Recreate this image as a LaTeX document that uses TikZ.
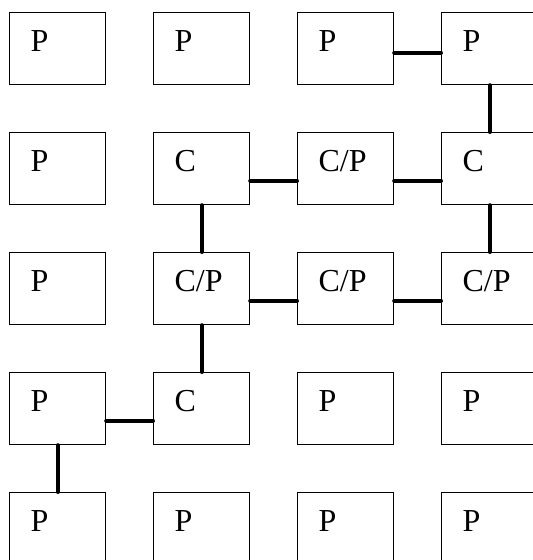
\documentclass[tikz,border=0pt]{standalone}
\usepackage{fontspec}
\setmainfont{Liberation Serif}
\begin{document}
\begin{tikzpicture}[x=1pt,y=-1pt,
  cell/.style={draw=black, line width=1.2pt, rectangle, anchor=north west,
    inner xsep=21pt, inner ysep=0pt, text width=54pt, align=left,
    text height=38.5pt, text depth=33.5pt,
    font=\fontsize{32}{38}\selectfont},
  link/.style={line width=4pt, line cap=round}]
\useasboundingbox (0,0) rectangle (533,560);
\clip (0,0) rectangle (533,560);
% row 0
\node[cell] (a00) at (9,12) {P};
\node[cell] (a01) at (153,12) {P};
\node[cell] (a02) at (297,12) {P};
\node[cell] (a03) at (441,12) {P};
% row 1
\node[cell] (a10) at (9,132) {P};
\node[cell] (a11) at (153,132) {C};
\node[cell] (a12) at (297,132) {C/P};
\node[cell] (a13) at (441,132) {C};
% row 2
\node[cell] (a20) at (9,252) {P};
\node[cell] (a21) at (153,252) {C/P};
\node[cell] (a22) at (297,252) {C/P};
\node[cell] (a23) at (441,252) {C/P};
% row 3
\node[cell] (a30) at (9,372) {P};
\node[cell] (a31) at (153,372) {C};
\node[cell] (a32) at (297,372) {P};
\node[cell] (a33) at (441,372) {P};
% row 4
\node[cell] (a40) at (9,492) {P};
\node[cell] (a41) at (153,492) {P};
\node[cell] (a42) at (297,492) {P};
\node[cell] (a43) at (441,492) {P};
% connectors
\draw[link] ([yshift=-4pt]a02.east) -- ([yshift=-4pt]a03.west);
\draw[link] (a03.south) -- (a13.north);
\draw[link] ([yshift=-12pt]a11.east) -- ([yshift=-12pt]a12.west);
\draw[link] ([yshift=-12pt]a12.east) -- ([yshift=-12pt]a13.west);
\draw[link] (a11.south) -- (a21.north);
\draw[link] (a13.south) -- (a23.north);
\draw[link] ([yshift=-12pt]a21.east) -- ([yshift=-12pt]a22.west);
\draw[link] ([yshift=-12pt]a22.east) -- ([yshift=-12pt]a23.west);
\draw[link] (a21.south) -- (a31.north);
\draw[link] ([yshift=-12pt]a30.east) -- ([yshift=-12pt]a31.west);
\draw[link] (a30.south) -- (a40.north);
\end{tikzpicture}
\end{document}
